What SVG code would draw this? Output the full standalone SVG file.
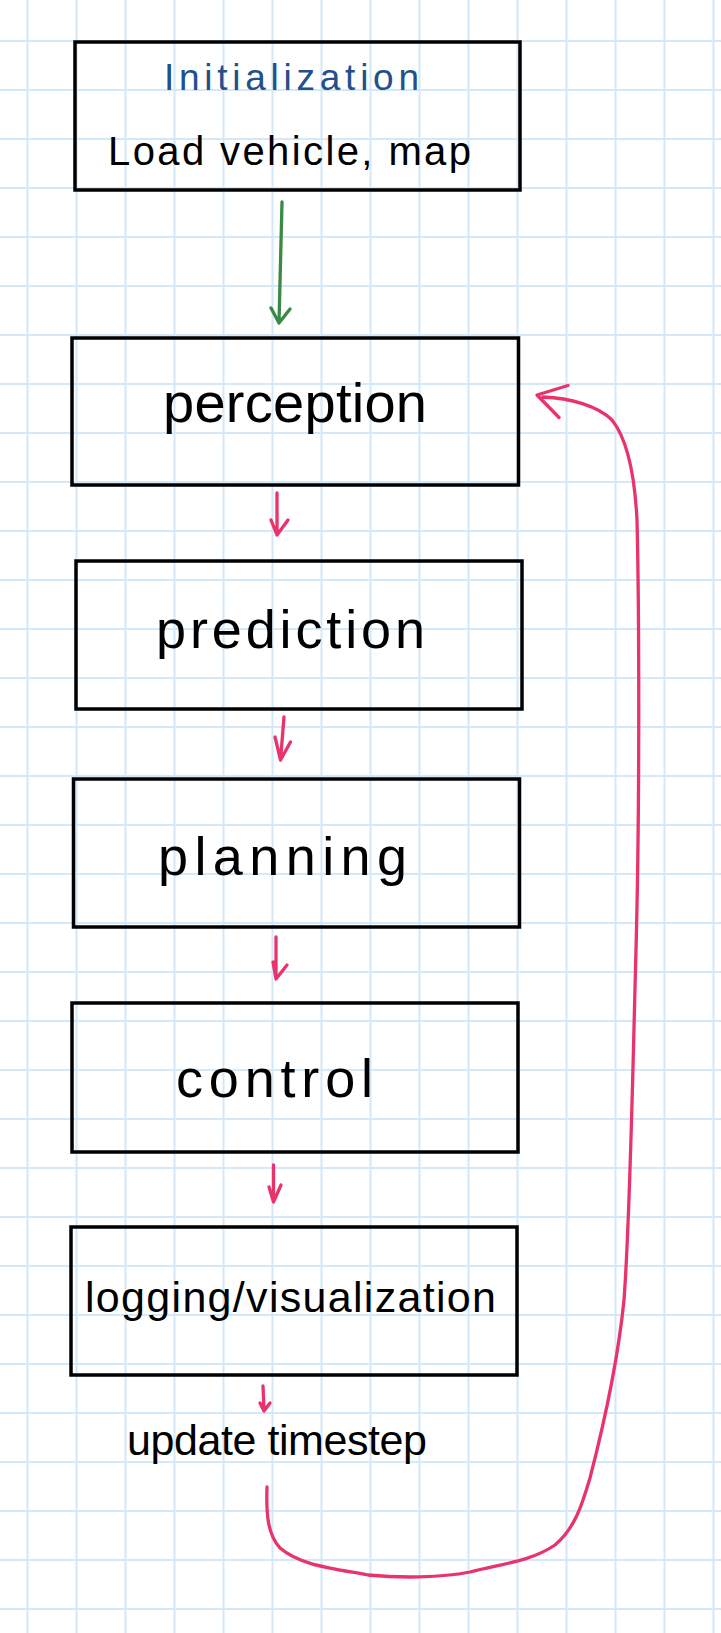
<svg xmlns="http://www.w3.org/2000/svg" width="721" height="1633" viewBox="0 0 721 1633">
<style>
.bg{fill:#ffffff}
.grid line{stroke:#d3e8f8;stroke-width:2}
.box{fill:none;stroke:#000;stroke-width:3.5}
.lbl{font-family:"Liberation Sans",Arial,sans-serif;fill:#000}
.blue{fill:#23508a}
.red{fill:none;stroke:#e8336b;stroke-width:3.3;stroke-linecap:round;stroke-linejoin:round}
.green{fill:none;stroke:#3a8a45;stroke-width:3.3;stroke-linecap:round;stroke-linejoin:round}
</style>
<rect class="bg" x="0" y="0" width="721" height="1633"/>
<g class="grid" id="grid">
<line x1="27.5" y1="0" x2="27.5" y2="1633"/><line x1="76.5" y1="0" x2="76.5" y2="1633"/><line x1="125.5" y1="0" x2="125.5" y2="1633"/><line x1="174.5" y1="0" x2="174.5" y2="1633"/><line x1="223.5" y1="0" x2="223.5" y2="1633"/><line x1="272.5" y1="0" x2="272.5" y2="1633"/><line x1="321.5" y1="0" x2="321.5" y2="1633"/><line x1="370.5" y1="0" x2="370.5" y2="1633"/><line x1="419.5" y1="0" x2="419.5" y2="1633"/><line x1="468.5" y1="0" x2="468.5" y2="1633"/><line x1="517.5" y1="0" x2="517.5" y2="1633"/><line x1="566.5" y1="0" x2="566.5" y2="1633"/><line x1="615.5" y1="0" x2="615.5" y2="1633"/><line x1="664.5" y1="0" x2="664.5" y2="1633"/><line x1="713.5" y1="0" x2="713.5" y2="1633"/>
<line x1="0" y1="41" x2="721" y2="41"/><line x1="0" y1="90" x2="721" y2="90"/><line x1="0" y1="139" x2="721" y2="139"/><line x1="0" y1="188" x2="721" y2="188"/><line x1="0" y1="237" x2="721" y2="237"/><line x1="0" y1="286" x2="721" y2="286"/><line x1="0" y1="335" x2="721" y2="335"/><line x1="0" y1="384" x2="721" y2="384"/><line x1="0" y1="433" x2="721" y2="433"/><line x1="0" y1="482" x2="721" y2="482"/><line x1="0" y1="531" x2="721" y2="531"/><line x1="0" y1="580" x2="721" y2="580"/><line x1="0" y1="629" x2="721" y2="629"/><line x1="0" y1="678" x2="721" y2="678"/><line x1="0" y1="727" x2="721" y2="727"/><line x1="0" y1="776" x2="721" y2="776"/><line x1="0" y1="825" x2="721" y2="825"/><line x1="0" y1="874" x2="721" y2="874"/><line x1="0" y1="923" x2="721" y2="923"/><line x1="0" y1="972" x2="721" y2="972"/><line x1="0" y1="1021" x2="721" y2="1021"/><line x1="0" y1="1070" x2="721" y2="1070"/><line x1="0" y1="1119" x2="721" y2="1119"/><line x1="0" y1="1168" x2="721" y2="1168"/><line x1="0" y1="1217" x2="721" y2="1217"/><line x1="0" y1="1266" x2="721" y2="1266"/><line x1="0" y1="1315" x2="721" y2="1315"/><line x1="0" y1="1364" x2="721" y2="1364"/><line x1="0" y1="1413" x2="721" y2="1413"/><line x1="0" y1="1462" x2="721" y2="1462"/><line x1="0" y1="1511" x2="721" y2="1511"/><line x1="0" y1="1560" x2="721" y2="1560"/><line x1="0" y1="1609" x2="721" y2="1609"/>
</g>
<g id="connectors">
<path class="green" d="M282,202 L279,323 M271,308 L279,323 L290,309"/>
<path class="red" d="M277,493 L277,535 M271,520 L277,535 L288,520"/>
<path class="red" d="M284,717 L280.5,760 M275,737 L280.5,760 L290.5,742"/>
<path class="red" d="M276,937 L276,979 M273,962 L276,979 L287,965"/>
<path class="red" d="M273.5,1165 L273.5,1202 M269,1187 L273.5,1202 L281,1185"/>
<path class="red" d="M263,1386 L264,1411 M260,1403 L264,1411 L270,1403"/>
<path class="red" d="M267,1487 C266,1515 268,1535 280,1548 C300,1565 330,1568 368,1575 C400,1578 440,1578 470,1572 C500,1564 530,1562 555,1545 C575,1528 582,1505 590,1478 C605,1420 618,1360 624,1300 C630,1220 632,1100 636,950 C640,800 639,600 637,520 C635,480 628,440 612,420 C598,406 570,398 543,397 M568,385.5 L537,395 L559,417.5"/>
</g>
<g id="initialization">
<rect class="box" x="75" y="42" width="445" height="148"/>
<text class="lbl blue" x="164" y="90" font-size="37" textLength="255">Initialization</text>
<text class="lbl" x="108" y="165" font-size="40" textLength="363">Load vehicle, map</text>
</g>
<g id="perception">
<rect class="box" x="72" y="338" width="446.5" height="147"/>
<text class="lbl" x="163" y="422" font-size="56" textLength="264">perception</text>
</g>
<g id="prediction">
<rect class="box" x="76" y="561" width="446" height="148"/>
<text class="lbl" x="156" y="648" font-size="54" textLength="269">prediction</text>
</g>
<g id="planning">
<rect class="box" x="73.5" y="779" width="446" height="148"/>
<text class="lbl" x="158" y="875" font-size="54" textLength="249">planning</text>
</g>
<g id="control">
<rect class="box" x="72" y="1003" width="446" height="149"/>
<text class="lbl" x="176" y="1097" font-size="54" textLength="197">control</text>
</g>
<g id="logging">
<rect class="box" x="71" y="1227" width="446" height="148"/>
<text class="lbl" x="85" y="1312" font-size="43" textLength="411">logging/visualization</text>
</g>
<g id="update">
<text class="lbl" x="127" y="1455" font-size="43" textLength="300">update timestep</text>
</g>
</svg>
